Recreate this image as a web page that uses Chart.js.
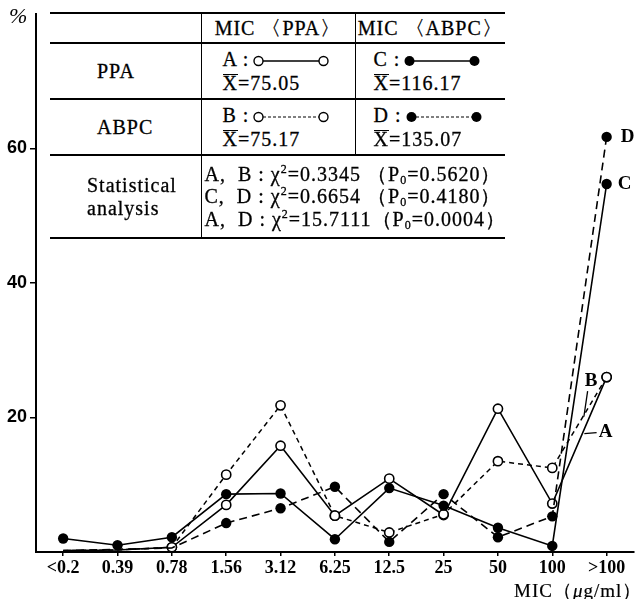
<!DOCTYPE html>
<html>
<head>
<meta charset="utf-8">
<script src="https://cdn.jsdelivr.net/npm/chart.js@4"></script>
<style>
  body { margin: 0; background: #fff; }
  #wrap { position: relative; width: 640px; height: 599px; }
  #stats {
    position: absolute; left: 50px; top: 12px; width: 455px;
    border-collapse: collapse; background: #fff; color: #000; table-layout: fixed;
    font: 20px "Liberation Serif", serif; letter-spacing: 1px;
    -webkit-text-stroke: 0.3px #000;
  }
  #stats tr { border-top: 2px solid #000; }
  #stats tr:last-child { border-bottom: 2px solid #000; }
  #stats td { box-sizing: border-box; padding: 0; vertical-align: middle; white-space: pre; }
  #stats td + td { border-left: 1.5px solid #000; }
  #stats td.c1 { width: 151px; padding-left: 47px; }
  #stats td.c2 { width: 154px; }
  #stats tr.head td { height: 30px; text-align: center; }
  #stats tr.head td.c1 { padding-left: 0; }
  #stats tr.mid td { height: 56px; line-height: 24px; }
  #stats tr.mid td.c2 { padding-left: 21px; }
  #stats tr.mid td.c3 { padding-left: 18px; }
  #stats tr.stat td { height: 83px; line-height: 22.5px; }
  #stats tr.stat td.c1 { padding-left: 37px; }
  #stats tr.stat td.c2 { padding-left: 3px; }
  .xbar { display: inline-block; line-height: 17px; border-top: 1.5px solid #000; }
  svg.smp { vertical-align: -1px; margin-left: 4px; }
  sub { font-size: 12px; vertical-align: -3px; line-height: 0; }
  sup { font-size: 12px; vertical-align: 8px; line-height: 0; }
  #pct { position: absolute; left: 9px; top: 3px; font: italic 22px "Liberation Serif", serif; }
  #xtitle { position: absolute; left: 514px; top: 578px; white-space: nowrap; font: 19px "Liberation Serif", serif; letter-spacing: 1px; -webkit-text-stroke: 0.2px #000; }
</style>
</head>
<body>
<div id="wrap">
  <canvas id="micChart" width="640" height="599"></canvas>
  <div id="pct">%</div>
  <div id="xtitle">MIC（<i>μ</i>g/ml）</div>
  <table id="stats">
    <tr class="head"><td class="c1"></td><td class="c2">MIC 〈PPA〉</td><td class="c3">MIC 〈ABPC〉</td></tr>
    <tr class="mid">
      <td class="c1">PPA</td>
      <td class="c2">A :<svg class="smp" width="76" height="12"><line x1="10" y1="6" x2="66" y2="6" stroke="#000" stroke-width="1.5"/><circle cx="5.5" cy="6" r="4.5" fill="#fff" stroke="#000" stroke-width="1.4"/><circle cx="70.5" cy="6" r="4.5" fill="#fff" stroke="#000" stroke-width="1.4"/></svg><br><span class="xbar">X</span>=75.05</td>
      <td class="c3">C :<svg class="smp" width="76" height="12"><line x1="10" y1="6" x2="66" y2="6" stroke="#000" stroke-width="1.5"/><circle cx="5.5" cy="6" r="5" fill="#000"/><circle cx="70.5" cy="6" r="5" fill="#000"/></svg><br><span class="xbar">X</span>=116.17</td>
    </tr>
    <tr class="mid">
      <td class="c1">ABPC</td>
      <td class="c2">B :<svg class="smp" width="76" height="12"><line x1="10" y1="6" x2="66" y2="6" stroke="#000" stroke-width="1.2" stroke-dasharray="3 2"/><circle cx="5.5" cy="6" r="4.5" fill="#fff" stroke="#000" stroke-width="1.4"/><circle cx="70.5" cy="6" r="4.5" fill="#fff" stroke="#000" stroke-width="1.4"/></svg><br><span class="xbar">X</span>=75.17</td>
      <td class="c3">D :<svg class="smp" width="76" height="12"><line x1="10" y1="6" x2="66" y2="6" stroke="#000" stroke-width="1.2" stroke-dasharray="3 2"/><circle cx="5.5" cy="6" r="5" fill="#000"/><circle cx="70.5" cy="6" r="5" fill="#000"/></svg><br><span class="xbar">X</span>=135.07</td>
    </tr>
    <tr class="stat">
      <td class="c1">Statistical
analysis</td>
      <td class="c2" colspan="2">A,  B : χ<sup>2</sup>=0.3345 （P<sub>0</sub>=0.5620）
C,  D : χ<sup>2</sup>=0.6654 （P<sub>0</sub>=0.4180）
A,  D : χ<sup>2</sup>=15.7111（P<sub>0</sub>=0.0004）</td>
    </tr>
  </table>
</div>
<script>
// MIC categories (µg/ml)
const micLabels = ['<0.2', '0.39', '0.78', '1.56', '3.12', '6.25', '12.5', '25', '50', '100', '>100'];

// % of strains per MIC class
const seriesA = [0.2, 0.3, 0.7, 7.0, 15.8, 5.4, 10.9, 5.5, 21.3, 7.2, 26.0];   // PPA strains, MIC of PPA
const seriesB = [0.2, 0.3, 0.7, 11.5, 21.8, 5.4, 2.9, 5.6, 13.5, 12.5, 26.0];  // ABPC strains, MIC of PPA
const seriesC = [2.0, 1.0, 2.2, 8.6, 8.7, 1.9, 9.5, 6.9, 3.6, 0.9, 54.7];      // PPA strains, MIC of ABPC
const seriesD = [0.2, 0.4, 0.6, 4.3, 6.5, 9.7, 1.5, 8.6, 2.2, 5.3, 61.7];      // ABPC strains, MIC of ABPC

const yTicks = [20, 40, 60];

// where the A / B labels hook onto their lines (in % units)
const labelA = { text: 17.6, hook: 17.6 };
const labelB = { text: 25.4, hook: 20.1 };

const openPoint = {
  pointStyle: 'circle',
  pointBackgroundColor: '#fff',
  pointBorderColor: '#000',
  pointBorderWidth: 1.6,
  pointRadius: ctx => ctx.dataIndex < 2 ? 0 : 4.6
};
const filledPoint = {
  pointStyle: 'circle',
  pointBackgroundColor: '#000',
  pointBorderColor: '#000',
  pointBorderWidth: 0,
  pointRadius: 5.2
};

// letters A-D next to the lines at the right end
const seriesLetters = {
  id: 'seriesLetters',
  afterDatasetsDraw(chart) {
    const { ctx, scales: { x, y } } = chart;
    const last = micLabels.length - 1;
    const xEnd = x.getPixelForValue(last);
    const xPrev = x.getPixelForValue(last - 1);
    const onLine = (data, v) => {
      const f = (v - data[last - 1]) / (data[last] - data[last - 1]);
      return xPrev + f * (xEnd - xPrev);
    };
    ctx.save();
    ctx.fillStyle = '#000';
    ctx.strokeStyle = '#000';
    ctx.lineWidth = 1.3;
    ctx.font = 'bold 19px "Liberation Serif"';
    ctx.textBaseline = 'middle';
    ctx.textAlign = 'left';
    ctx.fillText('D', xEnd + 14, y.getPixelForValue(seriesD[last]));
    ctx.fillText('C', xEnd + 11, y.getPixelForValue(seriesC[last]));
    ctx.fillText('A', xEnd - 8, y.getPixelForValue(labelA.text) - 2);
    ctx.fillText('B', xEnd - 22, y.getPixelForValue(labelB.text));

    // leader for A
    const ya = y.getPixelForValue(labelA.hook);
    ctx.beginPath();
    ctx.moveTo(onLine(seriesA, labelA.hook) + 2, ya);
    ctx.lineTo(xEnd - 10, ya - 1);
    ctx.stroke();
    // leader for B
    const yb = y.getPixelForValue(labelB.hook);
    ctx.beginPath();
    ctx.moveTo(xEnd - 19, y.getPixelForValue(labelB.text) + 10);
    ctx.lineTo(onLine(seriesB, labelB.hook) + 1, yb);
    ctx.stroke();
    ctx.restore();
  }
};

new Chart(document.getElementById('micChart'), {
  type: 'line',
  data: {
    labels: micLabels,
    datasets: [
      { label: 'D', data: seriesD, borderColor: '#000', borderWidth: 1.6, borderDash: [8, 5], ...filledPoint,
        pointRadius: ctx => ctx.dataIndex < 3 ? 0 : 5.2 },
      { label: 'C', data: seriesC, borderColor: '#000', borderWidth: 1.6, ...filledPoint },
      { label: 'B', data: seriesB, borderColor: '#000', borderWidth: 1.5, borderDash: [5, 4], ...openPoint },
      { label: 'A', data: seriesA, borderColor: '#000', borderWidth: 1.6, ...openPoint }
    ]
  },
  options: {
    responsive: false,
    animation: false,
    devicePixelRatio: 1,
    layout: { padding: { top: 10, right: 3, left: 0, bottom: 0 } },
    plugins: {
      legend: { display: false },
      tooltip: { enabled: false }
    },
    elements: { line: { tension: 0, fill: false } },
    scales: {
      x: {
        type: 'category',
        offset: true,
        afterFit: scale => { scale.height = 47; },
        border: { display: true, color: '#000', width: 2 },
        grid: { drawOnChartArea: false, drawTicks: true, tickLength: 4, color: '#000', lineWidth: 1.5 },
        ticks: {
          color: '#000',
          padding: 2,
          maxRotation: 0,
          autoSkip: false,
          font: { family: 'Liberation Serif', size: 18, weight: 'bold' }
        }
      },
      y: {
        min: 0,
        max: 80,
        afterFit: scale => { scale.width = 36; },
        afterBuildTicks: scale => { scale.ticks = yTicks.map(v => ({ value: v })); },
        border: { display: true, color: '#000', width: 2 },
        grid: { drawOnChartArea: false, drawTicks: true, tickLength: 6, color: '#000', lineWidth: 1.5 },
        ticks: {
          color: '#000',
          padding: 3,
          font: { family: 'Liberation Sans', size: 18, weight: 'bold' }
        }
      }
    }
  },
  plugins: [seriesLetters]
});
</script>
</body>
</html>
